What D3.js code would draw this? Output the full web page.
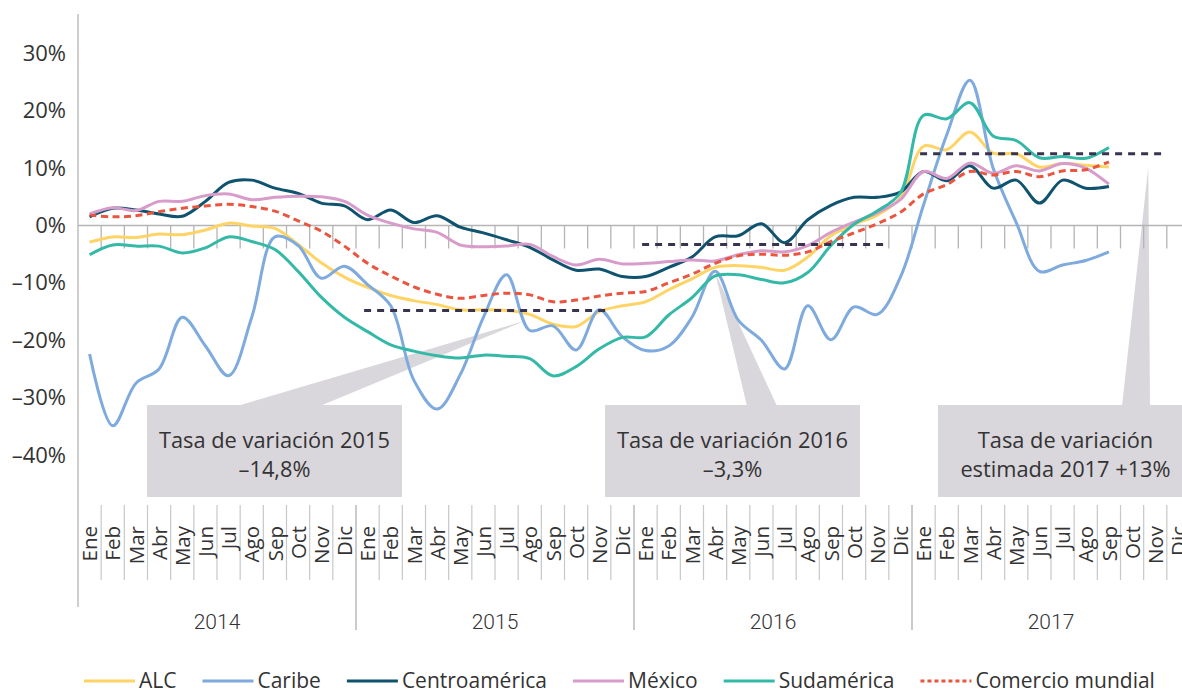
<!DOCTYPE html>
<html>
<head>
<meta charset="utf-8">
<script src="https://cdn.jsdelivr.net/npm/d3@7"></script>
<style>
  body { margin: 0; background: #fff; }
  svg { display: block; }
  text { font-family: "Open Sans", sans-serif; fill: #333; }
</style>
</head>
<body>
<svg id="chart" width="1182" height="694"></svg>
<script>
// months Ene 2014 .. Sep 2017 (45 values per series)
var months = ["Ene","Feb","Mar","Abr","May","Jun","Jul","Ago","Sep","Oct","Nov","Dic"];
var years = ["2014","2015","2016","2017"];
var yTicks = [30, 20, 10, 0, -10, -20, -30, -40];

var alc = [-2.9,-2.0,-2.1,-1.5,-1.6,-0.8,0.4,-0.1,-0.5,-3.3,-6.5,-9.0,
           -10.8,-12.2,-13.1,-13.8,-14.7,-14.7,-14.8,-15.5,-17.2,-17.6,-15.0,-14.0,
           -13.3,-11.2,-9.3,-7.3,-7.0,-7.3,-7.8,-5.5,-1.8,0.2,1.8,4.8,
           13.8,13.2,16.3,12.6,12.5,10.2,10.8,10.5,10.2];
var caribe = [-22.4,-34.9,-27.5,-25.0,-16.0,-21.0,-26.2,-16.0,-2.0,-3.5,-9.2,-7.1,
              -10.3,-14.0,-27.0,-32.0,-26.0,-16.0,-8.6,-18.3,-17.5,-21.7,-14.7,-19.4,
              -21.8,-21.0,-16.0,-8.0,-16.5,-20.0,-25.0,-14.0,-19.9,-14.2,-15.5,-9.0,
              3.6,15.8,25.3,10.0,0.5,-8.0,-6.9,-6.1,-4.6];
var centro = [1.5,3.0,2.7,2.0,1.6,4.2,7.5,7.9,6.5,5.6,3.9,3.4,
              1.0,2.7,0.5,1.7,-0.3,-1.3,-2.5,-3.8,-6.0,-7.8,-7.6,-8.9,
              -8.9,-7.3,-5.5,-2.0,-1.8,0.3,-3.0,1.0,3.5,4.9,4.9,5.8,
              9.4,7.8,10.4,6.5,7.9,3.9,7.9,6.5,6.8];
var mexico = [2.0,3.1,2.6,4.2,4.2,5.2,5.5,4.5,4.9,5.1,5.0,4.2,
              1.8,0.4,-0.6,-1.2,-3.4,-3.7,-3.6,-3.3,-5.4,-6.9,-5.9,-6.7,
              -6.6,-6.3,-6.0,-6.2,-5.1,-4.4,-4.6,-3.5,-1.2,0.6,2.2,4.5,
              9.4,8.2,10.9,9.1,10.4,9.5,10.8,10.0,7.2];
var sudamerica = [-5.1,-3.4,-3.6,-3.6,-4.8,-3.9,-2.0,-2.8,-4.2,-8.0,-12.5,-16.0,
                  -18.5,-20.8,-21.9,-22.7,-23.1,-22.6,-22.8,-23.2,-26.2,-24.6,-21.5,-19.5,
                  -19.4,-15.6,-12.6,-8.8,-8.6,-9.4,-10.0,-8.2,-3.5,0.2,2.5,5.7,
                  19.2,18.6,21.4,15.6,14.8,11.8,12.0,11.7,13.6];
var comercio = [1.8,1.5,1.7,2.4,3.0,3.4,3.7,3.3,2.5,0.8,-1.0,-3.6,
                -6.6,-8.8,-10.7,-12.0,-12.7,-12.2,-11.8,-12.1,-13.3,-13.0,-12.3,-11.8,
                -11.5,-10.0,-8.5,-6.6,-5.3,-5.0,-5.2,-4.6,-2.8,-1.3,0.3,2.3,
                5.5,7.1,9.4,8.8,9.4,8.5,9.5,9.7,11.1];

var seriesNames = ["ALC", "Caribe", "Centroamérica", "México", "Sudamérica", "Comercio mundial"];
var seriesData = [alc, caribe, centro, mexico, sudamerica, comercio];

// yearly averages 2015, 2016, 2017 (estimate)
var avgYears = ["2015", "2016", "2017"];
var avgValues = [-14.8, -3.3, 12.5];

var calloutLines = [["Tasa de variación 2015", "–14,8%"],
                    ["Tasa de variación 2016", "–3,3%"],
                    ["Tasa de variación", "estimada 2017 +13%"]];
// pointer tip: [month index, value]
var calloutTips = [[18.8, -16.6], [27, -8.2], [45.7, 10.2]];

(function() {
    var colors = ["#fed466", "#7eaadd", "#0f536f", "#d89ccb", "#34b9a6", "#e9553e"];
    var svg = d3.select("#chart");

    var left = 78, right = 1190;
    var allMonths = [];
    years.forEach(function(yr) {
        months.forEach(function(m) { allMonths.push(yr + "-" + m); });
    });

    var x = d3.scaleBand().domain(d3.range(allMonths.length)).range([left, right]);
    var bw = x.bandwidth();
    var xc = function(i) { return left + bw * (i + 0.5); };

    var y = d3.scaleLinear().domain([-40, 30]).range([455, 53.3]);

    // callout boxes (drawn under the lines)
    var boxes = [{x: 147, base: [237, 320]}, {x: 605, base: [747, 777]}, {x: 938, base: [1122, 1150]}];
    var boxTop = 405, boxH = 92, boxW = 255;
    var cg = svg.append("g");
    boxes.forEach(function(b, k) {
        var tip = calloutTips[k];
        cg.append("path")
            .attr("d", "M" + b.base[0] + "," + (boxTop + 1) + "L" + xc(tip[0]) + "," + y(tip[1]) +
                  "L" + b.base[1] + "," + (boxTop + 1) + "Z")
            .attr("fill", "#d9d6dc");
        cg.append("rect")
            .attr("x", b.x).attr("y", boxTop)
            .attr("width", boxW).attr("height", boxH)
            .attr("fill", "#d9d6dc");
        calloutLines[k].forEach(function(t, j) {
            cg.append("text")
                .attr("x", b.x + boxW / 2)
                .attr("y", 448 + j * 29)
                .attr("text-anchor", "middle")
                .style("font-size", "21.8px")
                .text(t);
        });
    });

    // y axis
    var yAxis = svg.append("g")
        .attr("transform", "translate(" + left + ",0)")
        .call(d3.axisLeft(y).tickValues(yTicks).tickSize(0).tickPadding(12)
            .tickFormat(function(d) { return (d < 0 ? "–" : "") + Math.abs(d) + "%"; }));
    yAxis.select(".domain").remove();
    yAxis.selectAll("text").style("font-size", "22px").style("font-family", "Open Sans, sans-serif")
        .attr("fill", "#333");

    var axisColor = "#b5b5b5";
    svg.append("line")
        .attr("x1", left).attr("x2", left).attr("y1", 14).attr("y2", 607)
        .attr("stroke", axisColor).attr("stroke-width", 1.3);

    // zero line with ticks between months
    svg.append("line")
        .attr("x1", left).attr("x2", right).attr("y1", y(0)).attr("y2", y(0))
        .attr("stroke", axisColor).attr("stroke-width", 1.5);
    svg.append("g").selectAll("line")
        .data(d3.range(1, allMonths.length))
        .enter().append("line")
        .attr("x1", function(i) { return x(i); })
        .attr("x2", function(i) { return x(i); })
        .attr("y1", y(0)).attr("y2", y(0) + 23)
        .attr("stroke", axisColor).attr("stroke-width", 1.3);

    // category area at the bottom
    var catTop = 505;
    svg.append("g").selectAll("line")
        .data(d3.range(1, allMonths.length))
        .enter().append("line")
        .attr("x1", function(i) { return x(i); })
        .attr("x2", function(i) { return x(i); })
        .attr("y1", catTop)
        .attr("y2", function(i) { return i % 12 === 0 ? 630 : 580; })
        .attr("stroke", function(i) { return i % 12 === 0 ? "#a8a8a8" : "#c8c8c8"; })
        .attr("stroke-width", 1.2);

    svg.append("g").selectAll("text")
        .data(allMonths)
        .enter().append("text")
        .attr("transform", function(d, i) {
            return "translate(" + (x(i) + bw - 4) + "," + 526 + ") rotate(-90)";
        })
        .attr("text-anchor", "end")
        .style("font-size", "20.5px")
        .text(function(d) { return d.split("-")[1]; });

    svg.append("g").selectAll("text")
        .data(years)
        .enter().append("text")
        .attr("x", function(d, k) { return x(k * 12) + bw * 6; })
        .attr("y", 629)
        .attr("text-anchor", "middle")
        .style("font-family", "Roboto, sans-serif")
        .style("font-weight", "300")
        .style("font-size", "21px")
        .text(function(d) { return d; });

    // series lines
    var line = d3.line()
        .x(function(d, i) { return xc(i); })
        .y(function(d) { return y(d); })
        .curve(d3.curveCatmullRom.alpha(0.5));

    seriesData.forEach(function(s, k) {
        svg.append("path")
            .datum(s)
            .attr("d", line)
            .attr("fill", "none")
            .attr("stroke", colors[k])
            .attr("stroke-width", 3)
            .attr("stroke-linejoin", "round")
            .attr("stroke-dasharray", k === 5 ? "7,4.5" : null);
    });

    // yearly average dashed lines
    avgValues.forEach(function(v, k) {
        var yi = years.indexOf(avgYears[k]) * 12;
        svg.append("line")
            .attr("x1", x(yi) + bw * 0.35)
            .attr("x2", x(yi + 10) + bw)
            .attr("y1", y(v)).attr("y2", y(v))
            .attr("stroke", "#3a3350")
            .attr("stroke-width", 3)
            .attr("stroke-dasharray", "7,6");
    });

    // legend
    var lg = svg.append("g");
    var lx = 84, ly = 681;
    seriesNames.forEach(function(name, k) {
        lg.append("line")
            .attr("x1", lx).attr("x2", lx + 51).attr("y1", ly).attr("y2", ly)
            .attr("stroke", colors[k]).attr("stroke-width", 3)
            .attr("stroke-dasharray", k === 5 ? "4,3" : null);
        var t = lg.append("text")
            .attr("x", lx + 55).attr("y", ly + 7)
            .style("font-size", "21px")
            .text(name);
        lx += 55 + t.node().getComputedTextLength() + 26;
    });
})();
</script>
</body>
</html>
